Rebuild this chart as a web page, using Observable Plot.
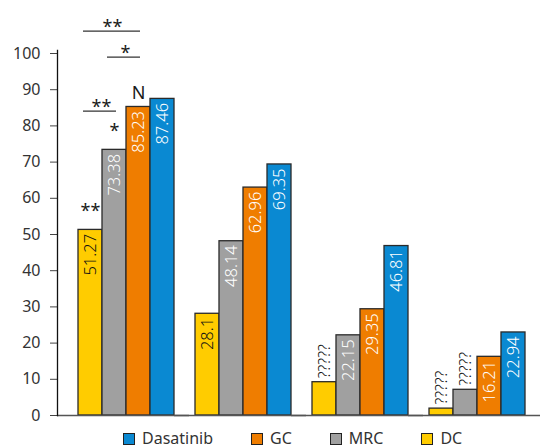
<!DOCTYPE html>
<html><head><meta charset="utf-8">
<script src="https://cdn.jsdelivr.net/npm/d3@7"></script>
<script src="https://cdn.jsdelivr.net/npm/@observablehq/plot@0.6"></script>
<style>
body{margin:0;background:#fff;font-family:"Noto Sans",sans-serif;position:relative;width:541px;height:448px;}
#chart{width:541px;position:relative;}
.legend{position:absolute;left:0;top:430px;display:flex;align-items:center;height:17px;line-height:17px;padding-left:123px;font-size:16px;color:#333;font-weight:400;}
.legend .item{display:flex;align-items:center;margin-right:38px;}
.legend .sw{width:10px;height:10px;border:1px solid #222;margin-right:7px;}
#dbg{position:absolute;right:2px;top:2px;font-size:10px;color:#c00;}
</style></head><body><div id="chart"></div><div id="dbg"></div><script>
const groups = ["G1", "G2", "G3", "G4"];
const series = ["DC", "MRC", "GC", "Dasatinib"];
const colors = ["#FFCC00", "#A0A0A0", "#EF7D00", "#0A89D2"];
const dcValues = [51.27, 28.1, 9.2, 1.9];
const mrcValues = [73.38, 48.14, 22.15, 7.1];
const gcValues = [85.23, 62.96, 29.35, 16.21];
const dasValues = [87.46, 69.35, 46.81, 22.94];
const dcLabels = ["51.27", "28.1", "?????", "?????"];
const mrcLabels = ["73.38", "48.14", "22.15", "?????"];
const gcLabels = ["85.23", "62.96", "29.35", "16.21"];
const dasLabels = ["87.46", "69.35", "46.81", "22.94"];
const yTicks = [0, 10, 20, 30, 40, 50, 60, 70, 80, 90, 100];
const legendOrder = ["Dasatinib", "GC", "MRC", "DC"];

// significance marks above single bars
const starTexts = ["**", "*", "N"];
const starSeries = ["DC", "MRC", "GC"];
const starY = [56.4, 78.5, 89.1];
// brackets
const bracketTexts = ["**", "*", "**"];
const bracketFrom = ["DC", "MRC", "DC"];
const bracketTo = ["MRC", "GC", "GC"];
const bracketY = [84.1, 99, 106.2];

try {
const valuesBySeries = [dcValues, mrcValues, gcValues, dasValues];
const labelsBySeries = [dcLabels, mrcLabels, gcLabels, dasLabels];
const table = [];
groups.forEach((g, i) => series.forEach((s, j) => table.push({group: g, series: s, value: valuesBySeries[j][i], label: labelsBySeries[j][i]})));
const inside = table.filter(d => d.label !== "?????");
const outside = table.filter(d => d.label === "?????");
const stars = starTexts.map((t, i) => ({group: groups[0], text: t, series: starSeries[i], y: starY[i]}));
const brackets = bracketTexts.map((t, i) => ({group: groups[0], text: t, from: bracketFrom[i], to: bracketTo[i], y: bracketY[i]}));

const plot = Plot.plot({
  width: 541,
  height: 427,
  marginLeft: 56,
  marginRight: 15,
  marginTop: 53,
  marginBottom: 12,
  style: {fontFamily: "Noto Sans", fontSize: "16px", color: "#222", background: "#fff", overflow: "visible"},
  fx: {domain: groups, padding: 0, axis: null},
  x: {domain: series, paddingInner: 0, paddingOuter: 0.381, align: 1, axis: null},
  y: {domain: [0, 100], axis: null},
  color: {domain: series, range: colors},
  marks: [
    Plot.barY(table, {fx: "group", x: "series", y: "value", fill: "series", stroke: "#2a2a2a", strokeWidth: 1.3}),
    Plot.text(inside, {fx: "group", x: "series", y: "value", text: "label", rotate: -90, textAnchor: "end", lineAnchor: "middle", dy: 4, fontSize: 16.5, fontWeight: 300, fill: d => d.series === "DC" ? "#111" : "#ffffff"}),
    Plot.text(outside, {fx: "group", x: "series", y: "value", text: "label", rotate: -90, textAnchor: "start", lineAnchor: "middle", dy: -4, fontSize: 16, fontWeight: 300, fill: "#111"}),
    Plot.text(stars, {fx: "group", x: "series", y: "y", text: "text", fontSize: 18, fill: "#1a1a1a", lineAnchor: "middle"}),
    Plot.ruleY(brackets, {fx: "group", x1: "from", x2: "to", y: "y", stroke: "#333", strokeWidth: 1.3, insetLeft: 5, insetRight: 10}),
    Plot.text(brackets.filter((d, i) => i < 2), {fx: "group", x: "to", y: "y", text: "text", fontSize: 18, fill: "#1a1a1a", lineAnchor: "middle", dx: -13, dy: -4}),
    Plot.text(brackets.filter((d, i) => i === 2), {fx: "group", x: "from", y: "y", text: "text", fontSize: 18, fill: "#1a1a1a", lineAnchor: "middle", dx: 22, dy: -4}),
    Plot.ruleY([0], {stroke: "#555", strokeWidth: 1.5, insetRight: -15}),
    Plot.axisY(yTicks, {anchor: "left", tickSize: 7, tickPadding: 10, fontSize: 16, label: null, stroke: "#444", fill: "#333"}),
    Plot.frame({anchor: "left", facetAnchor: "left", stroke: "#111", strokeWidth: 1.3, insetTop: -3})
  ]
});
document.getElementById("chart").appendChild(plot);

const legend = d3.select("body").append("div").attr("class", "legend");
legendOrder.forEach(name => {
  const item = legend.append("div").attr("class", "item");
  item.append("div").attr("class", "sw").style("background", colors[series.indexOf(name)]);
  item.append("span").text(name);
});
} catch (e) {
  document.getElementById("dbg").textContent = "ERR " + e.message + " v" + Plot.version;
}
</script></body></html>
